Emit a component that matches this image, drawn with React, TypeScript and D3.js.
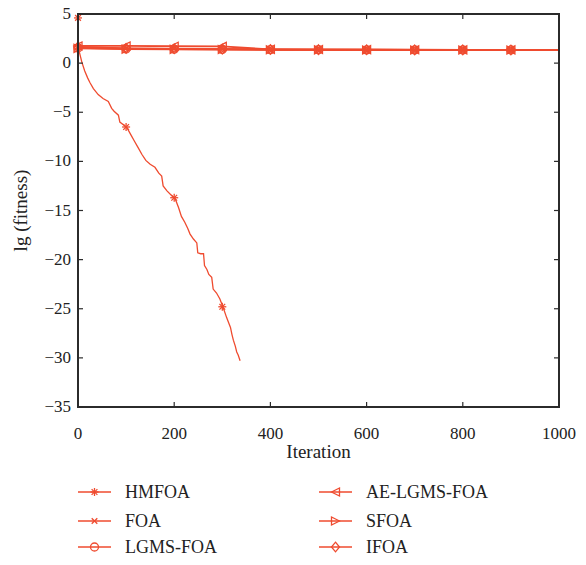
import * as d3 from 'd3';

const hmIter = [0, 1, 2, 4, 8, 14, 20, 25, 32, 42, 52, 63, 70, 75, 84, 87, 95, 102, 110, 118, 125, 133, 141, 150, 160, 168, 174, 177, 185, 195, 202, 209, 215, 222, 228, 233, 240, 247, 249, 255, 261, 263, 268, 272, 278, 281, 288, 295, 302, 309, 313, 317, 320, 323, 327, 330, 333, 337];
const hmVal = [4.6, 1.6, 1.3, 0.9, 0.1, -0.8, -1.5, -2.0, -2.6, -3.2, -3.6, -3.9, -4.6, -4.9, -5.3, -6.0, -6.3, -6.6, -7.3, -8.0, -8.6, -9.3, -9.9, -10.3, -10.6, -11.2, -11.5, -12.5, -13.0, -13.5, -13.8, -14.7, -15.6, -16.2, -16.8, -17.4, -17.9, -18.3, -19.3, -19.4, -19.4, -20.6, -21.0, -21.5, -21.8, -23.0, -23.4, -24.0, -24.9, -25.9, -26.4, -26.9, -27.6, -28.2, -28.8, -29.4, -29.7, -30.3];
const hmMarkIter = [0, 100, 200, 300];
const hmMarkVal = [4.6, -6.5, -13.7, -24.8];

const iters = [0, 100, 200, 300, 400, 500, 600, 700, 800, 900, 1000];
const foa = [1.62, 1.5, 1.45, 1.42, 1.38, 1.37, 1.36, 1.35, 1.35, 1.34, 1.34];
const lgms = [1.55, 1.45, 1.42, 1.4, 1.37, 1.36, 1.35, 1.35, 1.34, 1.34, 1.33];
const aeLgms = [1.75, 1.75, 1.72, 1.7, 1.4, 1.38, 1.37, 1.36, 1.35, 1.35, 1.34];
const sfoa = [1.5, 1.42, 1.4, 1.38, 1.36, 1.35, 1.34, 1.34, 1.33, 1.33, 1.33];
const ifoa = [1.65, 1.5, 1.46, 1.43, 1.39, 1.37, 1.36, 1.35, 1.35, 1.34, 1.34];

const xTicks = [0, 200, 400, 600, 800, 1000];
const yTicks = [5, 0, -5, -10, -15, -20, -25, -30, -35];

const RED = '#ef4b2f';
const AXIS = '#2b2b2b';
const FONT = "'Liberation Serif', 'DejaVu Serif', serif";

type Shape = 'star' | 'x' | 'circle' | 'triL' | 'triR' | 'diamond';

function Marker({ shape, cx, cy, r = 4 }: { shape: Shape; cx: number; cy: number; r?: number }) {
  const common = { fill: 'none', stroke: RED, strokeWidth: 1.3 };
  if (shape === 'star') {
    const d = r * 0.72;
    return (
      <g {...common}>
        <line x1={cx} y1={cy - r} x2={cx} y2={cy + r} />
        <line x1={cx - r} y1={cy} x2={cx + r} y2={cy} />
        <line x1={cx - d} y1={cy - d} x2={cx + d} y2={cy + d} />
        <line x1={cx - d} y1={cy + d} x2={cx + d} y2={cy - d} />
      </g>
    );
  }
  if (shape === 'x') {
    const d = r * 0.7;
    return (
      <g {...common}>
        <line x1={cx - d} y1={cy - d} x2={cx + d} y2={cy + d} />
        <line x1={cx - d} y1={cy + d} x2={cx + d} y2={cy - d} />
      </g>
    );
  }
  if (shape === 'circle') return <circle cx={cx} cy={cy} r={r} {...common} />;
  if (shape === 'triL')
    return <path d={`M${cx - r},${cy}L${cx + r},${cy - r}L${cx + r},${cy + r}Z`} {...common} />;
  if (shape === 'triR')
    return <path d={`M${cx + r},${cy}L${cx - r},${cy - r}L${cx - r},${cy + r}Z`} {...common} />;
  return <path d={`M${cx},${cy - r * 1.2}L${cx + r},${cy}L${cx},${cy + r * 1.2}L${cx - r},${cy}Z`} {...common} />;
}

export default function App() {
  const W = 586;
  const H = 565;
  const left = 78;
  const right = 559;
  const top = 14;
  const bottom = 407;

  const x = d3.scaleLinear().domain([0, 1000]).range([left, right]);
  const y = d3.scaleLinear().domain([-35, 5]).range([bottom, top]);
  const line = d3.line<[number, number]>().x(d => x(d[0])).y(d => y(d[1]));

  const flatSeries: { name: string; vals: number[]; shape: Shape }[] = [
    { name: 'FOA', vals: foa, shape: 'x' },
    { name: 'LGMS-FOA', vals: lgms, shape: 'circle' },
    { name: 'AE-LGMS-FOA', vals: aeLgms, shape: 'triL' },
    { name: 'SFOA', vals: sfoa, shape: 'triR' },
    { name: 'IFOA', vals: ifoa, shape: 'diamond' },
  ];

  const legend: { name: string; shape: Shape; col: number; row: number }[] = [
    { name: 'HMFOA', shape: 'star', col: 0, row: 0 },
    { name: 'FOA', shape: 'x', col: 0, row: 1 },
    { name: 'LGMS-FOA', shape: 'circle', col: 0, row: 2 },
    { name: 'AE-LGMS-FOA', shape: 'triL', col: 1, row: 0 },
    { name: 'SFOA', shape: 'triR', col: 1, row: 1 },
    { name: 'IFOA', shape: 'diamond', col: 1, row: 2 },
  ];
  const colX = [78, 319];
  const rowY = [492, 521, 547];
  const txt = { fill: '#222', style: { fontFamily: FONT } };

  return (
    <svg width={W} height={H} style={{ position: 'absolute', left: 0, top: 0, fontFamily: FONT }}>
      <rect width={W} height={H} fill="#fff" />
      {/* flat series */}
      {flatSeries.map(s => (
        <g key={s.name}>
          <path d={line(iters.map((it, i) => [it, s.vals[i]]))!} fill="none" stroke={RED} strokeWidth={1.8} />
          {iters.slice(0, 10).map((it, i) => (
            <Marker key={it} shape={s.shape} cx={x(it)} cy={y(s.vals[i])} />
          ))}
        </g>
      ))}
      {/* HMFOA */}
      <path d={line(hmIter.map((it, i) => [it, hmVal[i]]))!} fill="none" stroke={RED} strokeWidth={1.3} />
      {hmMarkIter.map((it, i) => (
        <Marker key={it} shape="star" cx={x(it)} cy={y(hmMarkVal[i])} />
      ))}

      {/* frame */}
      <rect x={left} y={top} width={right - left} height={bottom - top} fill="none" stroke={AXIS} strokeWidth={2} />
      {xTicks.map(t => (
        <g key={t}>
          <line x1={x(t)} x2={x(t)} y1={bottom} y2={bottom - 5} stroke={AXIS} strokeWidth={1.2} />
          <line x1={x(t)} x2={x(t)} y1={top} y2={top + 5} stroke={AXIS} strokeWidth={1.2} />
          <text x={x(t)} y={bottom + 32} textAnchor="middle" fontSize={17} {...txt}>{t}</text>
        </g>
      ))}
      {yTicks.map(t => (
        <g key={t}>
          <line x1={left} x2={left + 5} y1={y(t)} y2={y(t)} stroke={AXIS} strokeWidth={1.2} />
          <line x1={right} x2={right - 5} y1={y(t)} y2={y(t)} stroke={AXIS} strokeWidth={1.2} />
          <text x={left - 7} y={y(t) + 5} textAnchor="end" fontSize={17} {...txt}>
            {t < 0 ? `\u2212${-t}` : t}
          </text>
        </g>
      ))}
      <text x={(left + right) / 2} y={458} textAnchor="middle" fontSize={19} {...txt}>Iteration</text>
      <text transform={`translate(27,${(top + bottom) / 2}) rotate(-90)`} textAnchor="middle" fontSize={19} {...txt}>
        lg (fitness)
      </text>

      {/* legend */}
      {legend.map(l => {
        const lx = colX[l.col];
        const ly = rowY[l.row];
        return (
          <g key={l.name}>
            <line x1={lx} x2={lx + 33} y1={ly} y2={ly} stroke={RED} strokeWidth={1.3} />
            <Marker shape={l.shape} cx={lx + 16.5} cy={ly} />
            <text x={lx + 47} y={ly + 6} fontSize={18} {...txt}>{l.name}</text>
          </g>
        );
      })}
    </svg>
  );
}
